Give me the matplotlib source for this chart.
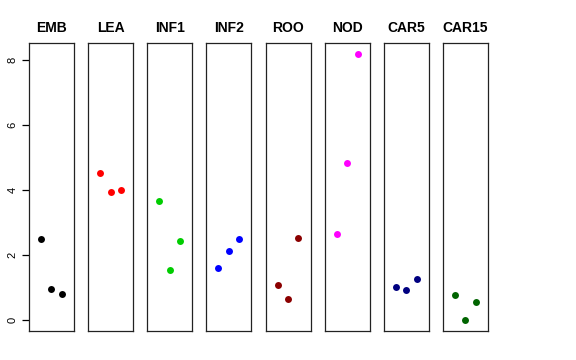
import matplotlib
matplotlib.use("Agg")
import matplotlib.pyplot as plt

# tissue panels, three replicate values each
tissues = ["EMB", "LEA", "INF1", "INF2", "ROO", "NOD", "CAR5", "CAR15"]
colors = ["black", "red", "#00CD00", "blue", "#8B0000", "magenta", "#000080", "#006400"]
reps = [1, 2, 3]
emb = [2.50, 0.95, 0.80]
lea = [4.54, 3.94, 4.01]
inf1 = [3.68, 1.55, 2.45]
inf2 = [1.61, 2.14, 2.51]
roo = [1.09, 0.66, 2.54]
nod = [2.65, 4.84, 8.20]
car5 = [1.01, 0.92, 1.28]
car15 = [0.77, 0.00, 0.56]
values = [emb, lea, inf1, inf2, roo, nod, car5, car15]
yticks = [0, 2, 4, 6, 8]

plt.rcParams['font.family'] = ['Liberation Sans', 'DejaVu Sans']

fig, axes = plt.subplots(1, 8, figsize=(5.76, 3.6), dpi=100, sharey=True)
fig.subplots_adjust(left=0.0503, right=0.8472, top=0.8806, bottom=0.0806, wspace=0.314)

for i, ax in enumerate(axes):
    ax.scatter(reps, values[i], s=25, color=colors[i], linewidths=0, zorder=3)
    ax.set_xlim(-0.16, 4.16)
    ax.set_ylim(-0.33, 8.53)
    ax.set_title(tissues[i], fontsize=10, fontweight="bold", pad=8)
    ax.set_xticks([])
    for sp in ax.spines.values():
        sp.set_linewidth(0.9)
        sp.set_color("#222222")
    if i == 0:
        ax.set_yticks(yticks)
        ax.set_yticklabels([str(t) for t in yticks], rotation=90, va="center", fontsize=8)
        ax.tick_params(axis="y", length=5, width=0.9, pad=3)
    else:
        ax.tick_params(axis="y", left=False, labelleft=False)

fig.savefig("out.png", dpi=100)
